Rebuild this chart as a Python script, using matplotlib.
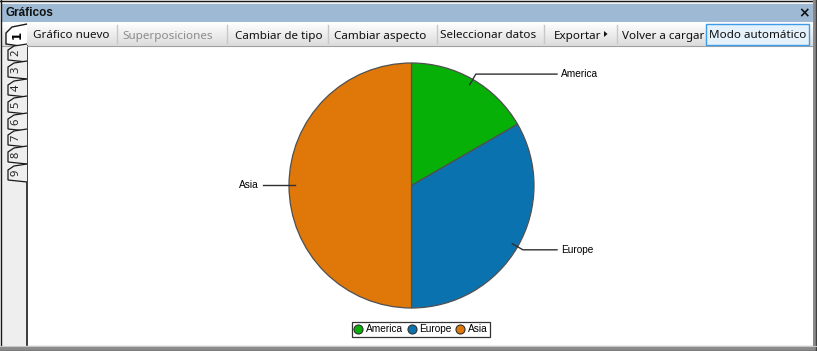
import matplotlib
matplotlib.use("Agg")
import matplotlib.pyplot as plt
import numpy as np
from matplotlib.patches import Rectangle, Polygon
from matplotlib.lines import Line2D

# ---- data ----
categories = ["America", "Europe", "Asia"]
values = [10, 20, 30]
colors = ["#06B006", "#0B72B0", "#DF7808"]

window_title = "Gráficos"
toolbar_items = ["Gráfico nuevo", "Superposiciones", "Cambiar de tipo", "Cambiar aspecto",
                 "Seleccionar datos", "Exportar", "Volver a cargar", "Modo automático"]
tab_labels = ["1", "2", "3", "4", "5", "6", "7", "8", "9"]

W, H = 817, 351
fig = plt.figure(figsize=(W / 100, H / 100), dpi=100)
ui = fig.add_axes([0, 0, 1, 1])
ui.set_xlim(0, W)
ui.set_ylim(H, 0)
ui.axis("off")

UIF = ["Noto Sans", "DejaVu Sans"]

# window background
ui.add_patch(Rectangle((0, 0), W, H, facecolor="#F0F0F0", edgecolor="none", zorder=0))
# chart area
ui.add_patch(Rectangle((27, 46), 786, 299, facecolor="white", edgecolor="none", zorder=1))
# left tab strip
ui.add_patch(Rectangle((2, 46), 25, 299, facecolor="#EEEEEE", edgecolor="none", zorder=1))
ui.plot([27.5, 27.5], [46, 345], color="#1A1A1A", lw=1.2, zorder=3)

# title bar
ui.add_patch(Rectangle((2, 4), 811, 18, facecolor="#9DB9D3", edgecolor="none", zorder=2))
ui.text(6, 13.5, window_title, fontsize=8.5, fontweight="bold",
        family=["Liberation Sans", "DejaVu Sans"],
        va="center", ha="left", color="#111111", zorder=5)
ui.text(804, 13.5, "×", fontsize=10, fontweight="bold", family=["DejaVu Sans"],
        va="center", ha="center", color="#111111", zorder=5)

# toolbar gradient
grad = np.linspace(1.0, 0.86, 50).reshape(-1, 1)
ui.imshow(grad, extent=(2, 813, 46, 22), cmap="gray", vmin=0, vmax=1,
          aspect="auto", zorder=2, interpolation="bilinear")
ui.plot([2, 813], [46, 46], color="#A0A0A0", lw=0.8, zorder=3)

# toolbar buttons
centers = [71, 168, 279, 380, 488, 578, 663, 758]
seps = [117, 227, 328, 437, 544, 617]
for s in seps:
    ui.plot([s + 0.5, s + 0.5], [25, 43], color="#C8C8C8", lw=1, zorder=4)
# active button
ui.add_patch(Rectangle((706.5, 23.5), 103, 21, facecolor="#E5F1FB",
                       edgecolor="#3C9CE8", lw=1, zorder=4))
for i, (lab, cx) in enumerate(zip(toolbar_items, centers)):
    col = "#8C8C8C" if lab == "Superposiciones" else "#111111"
    ui.text(cx, 38.5, lab, fontsize=8.4, family=UIF, ha="center", va="baseline",
            color=col, zorder=5)
# Exportar arrow
ui.add_patch(Polygon([[604, 31], [604, 37], [607.5, 34]], closed=True,
                     facecolor="#111111", edgecolor="none", zorder=5))

# left tabs
tab_y = [35, 53, 70, 88, 105, 122, 138, 155, 173]
for i, (lab, ty) in enumerate(zip(tab_labels, tab_y)):
    if i == 0:
        y0, y1 = 24, 46
        poly = [[27, y0], [12, y0 + 3], [6, y0 + 9], [6, y1 - 2], [27, y1 + 1]]
        ui.add_patch(Polygon(poly, closed=False, facecolor="white",
                             edgecolor="#1A1A1A", lw=1, zorder=4))
        ui.text(17, ty, lab, fontsize=8.5, fontweight="bold", family=["DejaVu Sans"],
                rotation=90, ha="center", va="center", color="#000000", zorder=6)
    else:
        y0, y1 = ty - 9, ty + 8
        poly = [[27, y0], [14, y0 + 2], [8, y0 + 6], [8, y1 - 1], [27, y1 + 1]]
        ui.add_patch(Polygon(poly, closed=False, facecolor="#EEEEEE",
                             edgecolor="#1A1A1A", lw=0.9, zorder=4))
        ui.text(16, ty, lab, fontsize=8, family=UIF,
                rotation=90, ha="center", va="center", color="#222222", zorder=6)

# window borders
ui.plot([0.5, 0.5], [0, 351], color="#1A1A1A", lw=1, zorder=6)
ui.plot([0, 817], [0.5, 0.5], color="#1A1A1A", lw=1, zorder=6)
ui.add_patch(Rectangle((813, 0), 4, H, facecolor="#8A8A8A", edgecolor="none", zorder=6))
ui.add_patch(Rectangle((0, 346), W, 5, facecolor="#8A8A8A", edgecolor="none", zorder=6))
ui.plot([816.5, 816.5], [0, 351], color="#404040", lw=1, zorder=7)
ui.plot([0, 817], [350.5, 350.5], color="#404040", lw=1, zorder=7)
ui.plot([0, 817], [346, 346], color="#C8C8C8", lw=0.8, zorder=7)

# ---- pie ----
cx, cy, r = 411.5, 185.5, 122.5
ax = fig.add_axes([(cx - r) / W, 1 - (cy + r) / H, 2 * r / W, 2 * r / H])
ax.set_facecolor("none")
wedges, _ = ax.pie(values, colors=colors, startangle=90, counterclock=False,
                   wedgeprops=dict(edgecolor="#505050", linewidth=0.9))
ax.set_xlim(-1, 1)
ax.set_ylim(-1, 1)
ax.set_aspect("auto")
ax.axis("off")

LF = ["Liberation Sans", "DejaVu Sans"]
for w, lab in zip(wedges, categories):
    ang = np.deg2rad((w.theta1 + w.theta2) / 2)
    x0, y0 = 0.95 * np.cos(ang), 0.95 * np.sin(ang)
    x1, y1 = 1.05 * np.cos(ang), 1.05 * np.sin(ang)
    if np.cos(ang) >= -0.01:
        x2 = (557 - cx) / r
        tx, ha = (561 - cx) / r, "left"
    else:
        x2 = (263 - cx) / r
        tx, ha = (259 - cx) / r, "right"
    ax.add_line(Line2D([x0, x1, x2], [y0, y1, y1], color="#303030", lw=1, clip_on=False))
    ax.text(tx, y1, lab, fontsize=7.3, family=LF, ha=ha, va="center", clip_on=False)

handles = [Line2D([], [], marker="o", linestyle="none", markersize=6.5,
                  markerfacecolor=c, markeredgecolor="#303030", markeredgewidth=0.8)
           for c in colors]
leg = fig.legend(handles, categories, loc="center", ncol=3,
                 bbox_to_anchor=(421 / W, 1 - 329.5 / H), frameon=True, fancybox=False,
                 prop=dict(family=LF, size=7.3), handlelength=0.8, handletextpad=0.35,
                 columnspacing=0.45, borderpad=0.25, borderaxespad=0)
leg.get_frame().set_edgecolor("#000000")
leg.get_frame().set_linewidth(0.9)

fig.savefig("out.png", dpi=100)
